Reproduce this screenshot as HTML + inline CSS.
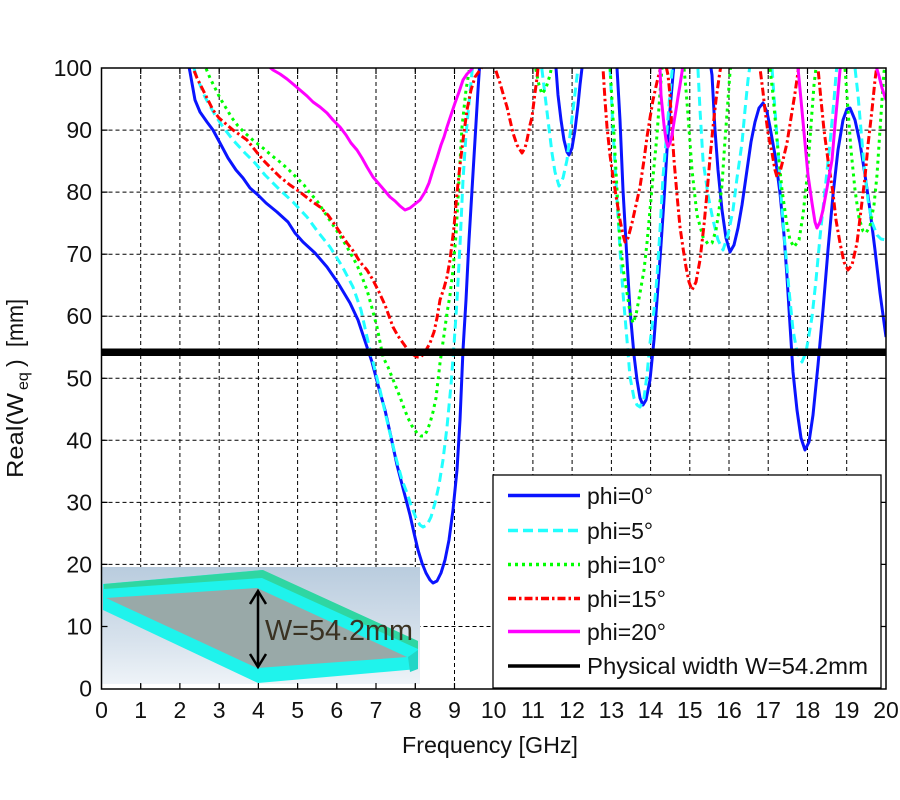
<!DOCTYPE html>
<html>
<head>
<meta charset="utf-8">
<style>
html,body{margin:0;padding:0;background:#fff;}
svg{display:block;}
text{font-family:"Liberation Sans",Arial,sans-serif;fill:#111;}
</style>
</head>
<body>
<svg width="900" height="800" viewBox="0 0 900 800" xmlns="http://www.w3.org/2000/svg">
<defs>
<clipPath id="pc"><rect x="101.5" y="68" width="784.5" height="621"/></clipPath>
<linearGradient id="bg" x1="0" y1="0" x2="0" y2="1">
<stop offset="0" stop-color="#b9ccde"/>
<stop offset="0.6" stop-color="#d6e1ec"/>
<stop offset="1" stop-color="#eef3f8"/>
</linearGradient>
</defs>
<rect width="900" height="800" fill="#fff"/>

<!-- grid -->
<g stroke="#000" stroke-width="1" stroke-dasharray="4,3" fill="none">
<path d="M140.7,68V689M179.9,68V689M219.2,68V689M258.4,68V689M297.6,68V689M336.8,68V689M376.0,68V689M415.3,68V689M454.5,68V689M493.7,68V689M532.9,68V689M572.1,68V689M611.4,68V689M650.6,68V689M689.8,68V689M729.0,68V689M768.2,68V689M807.5,68V689M846.7,68V689"/>
<path d="M101.5,626.5H886M101.5,564.4H886M101.5,502.4H886M101.5,440.3H886M101.5,378.3H886M101.5,316.2H886M101.5,254.2H886M101.5,192.1H886M101.5,130.1H886"/>
</g>

<!-- inset picture -->
<rect x="102" y="567" width="318" height="117" fill="url(#bg)"/>
<polygon points="103,584 262,570 418,641 418,669 258,683 103,610" fill="#1ff3ec"/>
<polygon points="104,584 263,570 418,641 418,649 262,578 104,589" fill="#2fd6a2"/>
<polygon points="106,598 257,588 407,657 257,668" fill="#99a9a8"/>
<polygon points="408,657 418,650 418,669 410,672" fill="#22d6c6"/>
<g stroke="#000" stroke-width="2.5" fill="none">
<line x1="258" y1="591" x2="258" y2="667"/>
<polyline points="250,604 258,591 266,604"/>
<polyline points="250,654 258,667 266,654"/>
</g>
<text x="265" y="640" font-size="29" textLength="148" lengthAdjust="spacingAndGlyphs" style="fill:#3a3222">W=54.2mm</text>

<!-- curves -->
<g clip-path="url(#pc)" fill="none" stroke-width="3" stroke-linejoin="round">
<g stroke="#0a14ff">
<path d="M186,55 L188,62 L190,72 L195,100 L200,112 L207,122 L213,130 L220,143 L228,158 L236,170 L243,178 L250,188 L258,195 L266,203 L277,212 L288,222 L295,233 L303,242 L315,253 L327,267 L338,283 L350,303 L358,320 L367,347 L372,362 L378,385 L385,410 L391,437 L397,465 L404,492 L410,515 L414,533 L418,550 L422,563 L426,573 L430,580 L433,583 L437,581 L441,573 L445,560 L449,540 L453,510 L457,470 L460,420 L463,350 L466,300 L469,240 L472,190 L475,140 L478,90 L480,60"/>
<path d="M553,55 L556,68 L558,95 L561,120 L564,140 L567,152 L569,155 L572,148 L575,130 L578,105 L580,85 L582,68 L584,55"/>
<path d="M615,55 L617,68 L620,120 L623,190 L627,260 L630,310 L634,355 L637,380 L640,398 L643,405 L646,400 L650,380 L654,340 L657,300 L661,245 L664,200 L667,150 L670,110 L673,75 L675,55"/>
<path d="M709,55 L712,75 L715,130 L718,170 L722,210 L726,238 L730,252 L734,245 L738,228 L742,205 L747,170 L751,142 L755,122 L759,108 L763,103 L767,112 L770,127 L775,155 L780,193 L784,235 L787,277 L790,325 L793,372 L797,410 L801,438 L805,450 L809,442 L813,415 L818,365 L823,310 L828,250 L833,195 L838,150 L843,120 L847,109 L850,108 L855,120 L860,143 L865,175 L870,210 L875,250 L880,293 L886,337"/>
</g>
<g stroke="#22ffff" stroke-dasharray="9,5">
<path d="M190,55 L193,65 L196,75 L205,97 L215,115 L223,127 L233,140 L245,153 L255,163 L265,175 L280,190 L293,202 L307,217 L318,232 L330,247 L342,266 L353,287 L361,310 L367,337 L372,358 L380,390 L388,425 L396,458 L402,480 L407,493 L412,508 L416,518 L420,525 L423,527 L427,525 L431,517 L435,503 L439,485 L443,460 L447,427 L451,385 L454,345 L457,300 L460,245 L463,180 L466,135 L470,93 L472,72 L474,55"/>
<path d="M539,55 L542,70 L545,95 L548,120 L552,153 L555,172 L559,186 L563,178 L567,160 L570,135 L573,110 L576,85 L578,68 L580,55"/>
<path d="M608,55 L610,68 L613,130 L617,200 L620,250 L623,293 L627,340 L630,377 L634,398 L637,405 L640,407 L644,398 L647,375 L650,343 L654,310 L657,277 L660,230 L663,177 L667,130 L670,93 L672,72 L674,55"/>
<path d="M696,55 L698,70 L700,110 L703,160 L708,195 L713,220 L718,240 L723,250 L728,235 L733,210 L737,178 L742,143 L745,110 L748,80 L750,65 L752,55"/>
<path d="M770,55 L772,68 L775,110 L778,150 L781,195 L785,245 L789,290 L793,330 L797,352 L802,362 L806,352 L809,335 L812,317 L816,280 L820,237 L825,190 L830,143 L834,100 L836,75 L838,55"/>
<path d="M853,55 L855,68 L858,95 L861,130 L864,165 L868,200 L872,222 L877,235 L881,239 L886,240"/>
</g>
<g stroke="#00ff00" stroke-dasharray="3,4">
<path d="M203,55 L205,66 L210,78 L215,88 L220,98 L226,108 L232,118 L238,126 L245,133 L254,141 L263,148 L271,155 L280,162 L289,170 L297,178 L304,185 L310,193 L317,201 L323,210 L329,219 L335,228 L341,237 L347,247 L352,256 L357,265 L362,277 L367,290 L372,308 L377,327 L380,342 L383,357 L388,367 L392,377 L396,387 L400,397 L404,408 L408,418 L412,426 L417,433 L421,436 L424,436 L427,431 L430,423 L433,412 L436,398 L440,363 L444,335 L447,313 L450,295 L453,270 L456,235 L459,180 L462,127 L466,90 L469,72 L471,55"/>
<path d="M533,55 L536,70 L539,85 L542,94 L546,88 L550,75 L553,60"/>
<path d="M608,55 L610,66 L612,100 L614,135 L617,190 L620,243 L624,275 L627,293 L630,312 L633,323 L636,315 L640,293 L644,270 L647,243 L650,210 L653,177 L657,135 L660,93 L662,68 L664,55"/>
<path d="M681,55 L684,68 L686,90 L688,115 L692,170 L697,215 L703,237 L708,244 L712,243 L716,230 L719,210 L722,185 L725,140 L728,100 L730,72 L732,55"/>
<path d="M768,55 L770,68 L773,95 L777,140 L782,190 L787,225 L790,240 L794,247 L799,240 L803,215 L807,178 L811,125 L814,85 L816,68 L818,55"/>
<path d="M843,55 L845,68 L848,110 L851,150 L855,190 L859,218 L863,231 L866,233 L870,226 L874,205 L877,175 L880,130 L882,100 L884,72 L886,60"/>
</g>
<g stroke="#ff0000" stroke-dasharray="8,3,2.5,3">
<path d="M190,55 L193,68 L197,78 L203,90 L208,100 L213,110 L219,118 L226,124 L233,130 L240,135 L247,140 L255,150 L263,160 L271,168 L280,177 L290,185 L300,192 L310,200 L320,207 L328,215 L335,225 L341,234 L347,243 L354,252 L360,262 L367,270 L373,280 L379,292 L385,305 L389,316 L393,327 L398,336 L403,343 L408,350 L412,354 L417,357 L421,357 L425,352 L430,343 L434,332 L437,318 L440,300 L444,288 L447,277 L450,260 L454,227 L457,193 L460,165 L463,140 L467,110 L471,90 L475,77 L480,70 L484,64 L488,58"/>
<path d="M491,55 L495,68 L500,83 L504,97 L507,107 L510,120 L513,133 L517,145 L522,153 L525,148 L527,140 L530,125 L532,117 L535,93 L537,78 L538,68 L540,55"/>
<path d="M601,55 L603,68 L605,100 L607,127 L610,155 L613,177 L617,202 L620,220 L623,235 L625,242 L628,238 L632,223 L636,205 L640,187 L644,160 L647,137 L650,118 L653,100 L657,82 L660,70 L663,62 L666,66 L668,75 L670,95 L672,130 L674,160 L677,195 L680,227 L683,248 L686,267 L689,282 L692,290 L696,282 L700,260 L704,225 L707,193 L710,158 L713,127 L716,100 L719,78 L721,65 L723,55"/>
<path d="M758,55 L760,68 L763,92 L765,110 L768,133 L772,153 L775,170 L777,177 L780,172 L783,160 L787,143 L791,118 L795,93 L798,72 L800,55"/>
<path d="M816,55 L818,68 L821,100 L824,130 L828,160 L833,193 L836,220 L840,243 L844,262 L848,270 L852,265 L857,243 L861,210 L865,177 L868,145 L872,110 L875,80 L877,65 L879,55"/>
</g>
<g stroke="#ff00ff">
<path d="M262,55 L267,65 L273,70 L280,74 L287,79 L293,84 L300,90 L307,96 L313,102 L320,107 L327,113 L333,120 L340,127 L346,135 L351,143 L357,150 L362,158 L367,167 L373,177 L379,184 L385,191 L390,197 L395,201 L400,206 L405,210 L410,208 L415,204 L420,200 L425,192 L429,183 L433,170 L437,158 L441,145 L444,137 L447,127 L451,115 L455,103 L459,92 L463,80 L467,74 L471,70 L474,66 L477,60"/>
<path d="M657,55 L660,68 L661,95 L664,125 L666,140 L668,147 L670,143 L672,135 L674,122 L676,110 L678,97 L680,85 L682,72 L684,55"/>
<path d="M796,55 L798,68 L801,100 L805,143 L808,175 L812,203 L815,222 L817,228 L820,222 L823,210 L827,188 L832,160 L835,125 L838,93 L840,70 L842,55"/>
<path d="M873,55 L876,66 L879,76 L882,88 L886,100"/>
</g>
<line x1="101.5" y1="352.2" x2="886" y2="352.2" stroke="#000" stroke-width="7.5"/>
</g>

<!-- axes box and ticks -->
<rect x="101.5" y="68" width="784.5" height="621" fill="none" stroke="#000" stroke-width="1.5"/>
<g stroke="#000" stroke-width="1.2">
<path d="M140.7,689v-6M179.9,689v-6M219.2,689v-6M258.4,689v-6M297.6,689v-6M336.8,689v-6M376.0,689v-6M415.3,689v-6M454.5,689v-6M493.7,689v-6M532.9,689v-6M572.1,689v-6M611.4,689v-6M650.6,689v-6M689.8,689v-6M729.0,689v-6M768.2,689v-6M807.5,689v-6M846.7,689v-6"/>
<path d="M140.7,68v6M179.9,68v6M219.2,68v6M258.4,68v6M297.6,68v6M336.8,68v6M376.0,68v6M415.3,68v6M454.5,68v6M493.7,68v6M532.9,68v6M572.1,68v6M611.4,68v6M650.6,68v6M689.8,68v6M729.0,68v6M768.2,68v6M807.5,68v6M846.7,68v6"/>
<path d="M101.5,626.5h6M101.5,564.4h6M101.5,502.4h6M101.5,440.3h6M101.5,378.3h6M101.5,316.2h6M101.5,254.2h6M101.5,192.1h6M101.5,130.1h6"/>
<path d="M886,626.5h-6M886,564.4h-6M886,502.4h-6M886,440.3h-6M886,378.3h-6M886,316.2h-6M886,254.2h-6M886,192.1h-6M886,130.1h-6"/>
</g>

<!-- tick labels -->
<g font-size="23" text-anchor="middle">
<text x="101.5" y="718">0</text><text x="140.7" y="718">1</text><text x="179.9" y="718">2</text><text x="219.2" y="718">3</text><text x="258.4" y="718">4</text><text x="297.6" y="718">5</text><text x="336.8" y="718">6</text><text x="376.0" y="718">7</text><text x="415.3" y="718">8</text><text x="454.5" y="718">9</text><text x="493.7" y="718">10</text><text x="532.9" y="718">11</text><text x="572.1" y="718">12</text><text x="611.4" y="718">13</text><text x="650.6" y="718">14</text><text x="689.8" y="718">15</text><text x="729.0" y="718">16</text><text x="768.2" y="718">17</text><text x="807.5" y="718">18</text><text x="846.7" y="718">19</text><text x="886" y="718">20</text>
</g>
<g font-size="23" text-anchor="end">
<text x="92" y="696.5">0</text><text x="92" y="634.5">10</text><text x="92" y="572.4">20</text><text x="92" y="510.4">30</text><text x="92" y="448.3">40</text><text x="92" y="386.3">50</text><text x="92" y="324.2">60</text><text x="92" y="262.2">70</text><text x="92" y="200.1">80</text><text x="92" y="138.1">90</text><text x="92" y="76">100</text>
</g>

<!-- axis labels -->
<text x="402" y="753" font-size="23" textLength="176" lengthAdjust="spacingAndGlyphs">Frequency [GHz]</text>
<text transform="translate(23,478) rotate(-90)" font-size="23">
<tspan x="0" y="0" textLength="85" lengthAdjust="spacingAndGlyphs">Real(W</tspan><tspan x="88" y="5" font-size="16">eq</tspan><tspan x="111" y="0">)</tspan><tspan x="131" y="0" textLength="48" lengthAdjust="spacingAndGlyphs">[mm]</tspan>
</text>

<!-- legend -->
<rect x="493" y="475" width="388" height="213" fill="#fff" stroke="#000" stroke-width="1.3"/>
<g stroke-width="3.5" fill="none">
<line x1="508" y1="495.5" x2="580" y2="495.5" stroke="#0a14ff"/>
<line x1="508" y1="530.5" x2="580" y2="530.5" stroke="#22ffff" stroke-dasharray="10,5"/>
<line x1="508" y1="564.5" x2="580" y2="564.5" stroke="#00ff00" stroke-dasharray="3,4"/>
<line x1="508" y1="598.5" x2="580" y2="598.5" stroke="#ff0000" stroke-dasharray="8,3,2.5,3"/>
<line x1="508" y1="631.5" x2="580" y2="631.5" stroke="#ff00ff"/>
<line x1="508" y1="666" x2="580" y2="666" stroke="#000"/>
</g>
<g font-size="23">
<text x="587" y="504">phi=0°</text>
<text x="587" y="539">phi=5°</text>
<text x="587" y="573">phi=10°</text>
<text x="587" y="607">phi=15°</text>
<text x="587" y="640">phi=20°</text>
<text x="587" y="674" textLength="281" lengthAdjust="spacingAndGlyphs">Physical width W=54.2mm</text>
</g>
</svg>
</body>
</html>
